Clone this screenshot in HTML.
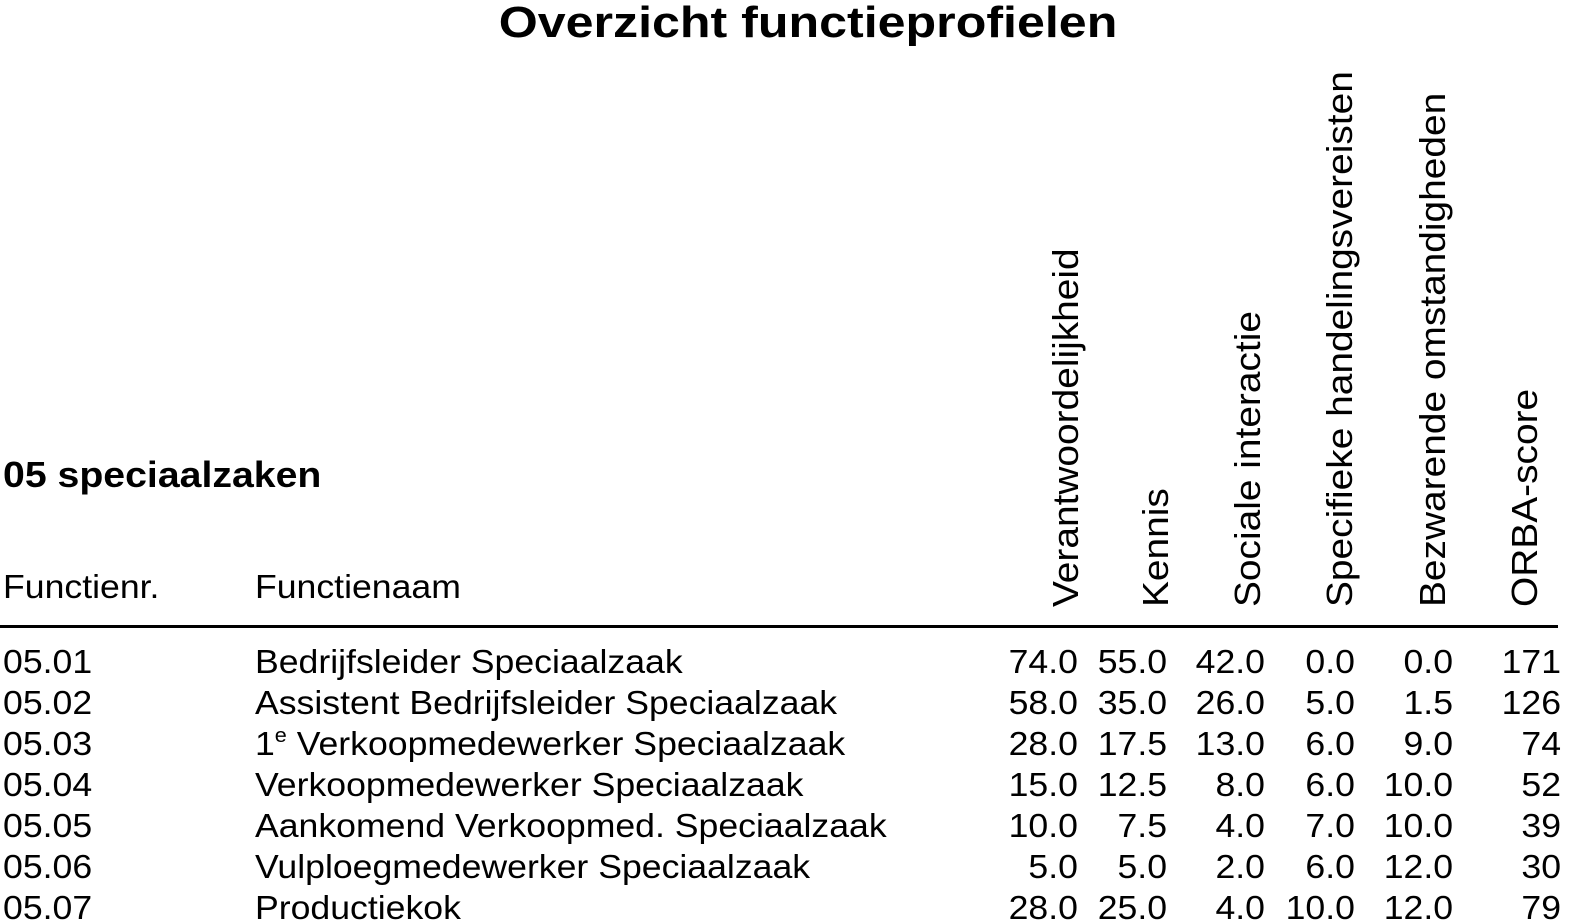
<!DOCTYPE html>
<html><head><meta charset="utf-8"><style>
html,body{margin:0;padding:0;background:#fff;}
svg{display:block;font-family:"Liberation Sans",Arial,sans-serif;}
</style></head><body>
<svg width="1583" height="924" viewBox="0 0 1583 924" xmlns="http://www.w3.org/2000/svg">
<text transform="translate(808,37) scale(1.14,1)" font-size="44" font-weight="bold" text-anchor="middle">Overzicht functieprofielen</text>
<text transform="translate(3,487) scale(1.09,1)" font-size="36" font-weight="bold">05 speciaalzaken</text>
<g font-size="36">
<text transform="translate(1078,607) rotate(-90) scale(1.08,1)">Verantwoordelijkheid</text>
<text transform="translate(1168,607) rotate(-90) scale(1.08,1)">Kennis</text>
<text transform="translate(1260,607) rotate(-90) scale(1.08,1)">Sociale interactie</text>
<text transform="translate(1352,607) rotate(-90) scale(1.08,1)">Specifieke handelingsvereisten</text>
<text transform="translate(1445,607) rotate(-90) scale(1.08,1)">Bezwarende omstandigheden</text>
<text transform="translate(1537,607) rotate(-90) scale(1.08,1)">ORBA-score</text>
</g>
<rect x="0" y="625" width="1558" height="3" fill="#000"/>
<g font-size="33" transform="scale(1.08,1)">
<text x="2.8" y="598">Functienr.</text>
<text x="236.1" y="598">Functienaam</text>
<g transform="translate(0,673)">
<text x="2.8">05.01</text><text x="236.1">Bedrijfsleider Speciaalzaak</text>
<g text-anchor="end"><text x="998.1">74.0</text><text x="1080.6">55.0</text><text x="1171.3">42.0</text><text x="1254.6">0.0</text><text x="1345.4">0.0</text><text x="1445.4">171</text></g>
</g>
<g transform="translate(0,714)">
<text x="2.8">05.02</text><text x="236.1">Assistent Bedrijfsleider Speciaalzaak</text>
<g text-anchor="end"><text x="998.1">58.0</text><text x="1080.6">35.0</text><text x="1171.3">26.0</text><text x="1254.6">5.0</text><text x="1345.4">1.5</text><text x="1445.4">126</text></g>
</g>
<g transform="translate(0,755)">
<text x="2.8">05.03</text><text x="236.1">1<tspan font-size="20" dy="-13">e</tspan><tspan dy="13"> Verkoopmedewerker Speciaalzaak</tspan></text>
<g text-anchor="end"><text x="998.1">28.0</text><text x="1080.6">17.5</text><text x="1171.3">13.0</text><text x="1254.6">6.0</text><text x="1345.4">9.0</text><text x="1445.4">74</text></g>
</g>
<g transform="translate(0,796)">
<text x="2.8">05.04</text><text x="236.1">Verkoopmedewerker Speciaalzaak</text>
<g text-anchor="end"><text x="998.1">15.0</text><text x="1080.6">12.5</text><text x="1171.3">8.0</text><text x="1254.6">6.0</text><text x="1345.4">10.0</text><text x="1445.4">52</text></g>
</g>
<g transform="translate(0,837)">
<text x="2.8">05.05</text><text x="236.1">Aankomend Verkoopmed. Speciaalzaak</text>
<g text-anchor="end"><text x="998.1">10.0</text><text x="1080.6">7.5</text><text x="1171.3">4.0</text><text x="1254.6">7.0</text><text x="1345.4">10.0</text><text x="1445.4">39</text></g>
</g>
<g transform="translate(0,878)">
<text x="2.8">05.06</text><text x="236.1">Vulploegmedewerker Speciaalzaak</text>
<g text-anchor="end"><text x="998.1">5.0</text><text x="1080.6">5.0</text><text x="1171.3">2.0</text><text x="1254.6">6.0</text><text x="1345.4">12.0</text><text x="1445.4">30</text></g>
</g>
<g transform="translate(0,919)">
<text x="2.8">05.07</text><text x="236.1">Productiekok</text>
<g text-anchor="end"><text x="998.1">28.0</text><text x="1080.6">25.0</text><text x="1171.3">4.0</text><text x="1254.6">10.0</text><text x="1345.4">12.0</text><text x="1445.4">79</text></g>
</g>
</g>
</svg>
</body></html>
